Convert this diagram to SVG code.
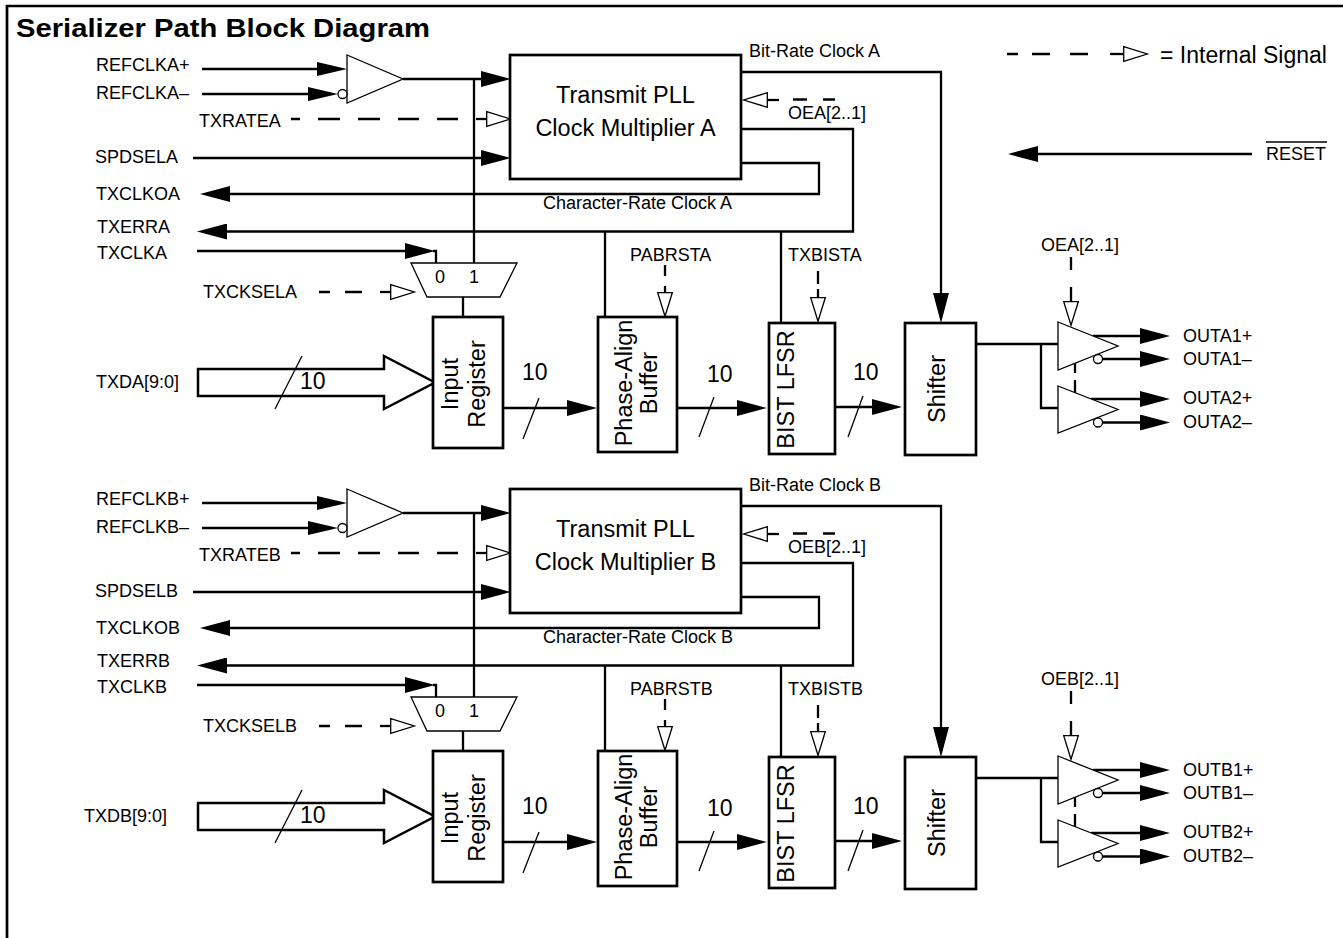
<svg xmlns="http://www.w3.org/2000/svg" width="1343" height="938" viewBox="0 0 1343 938">
<defs>
<style>
text{font-family:"Liberation Sans",Arial,sans-serif;fill:#000}
.lbl{font-size:18px}
.big{font-size:23.5px}
.num{font-size:23px}
.mid{text-anchor:middle}
.box{fill:#fff;stroke:#000;stroke-width:2.7}
.thin{fill:#fff;stroke:#000;stroke-width:1.3}
.w{fill:none;stroke:#000;stroke-width:2.3}
.sl{fill:none;stroke:#000;stroke-width:1.3}
.bus{fill:#fff;stroke:#000;stroke-width:2.5}
.fa{marker-end:url(#af)}
.fs{marker-end:url(#afs)}
.ha{marker-end:url(#ah)}
</style>
<marker id="af" viewBox="0 0 30 16" markerWidth="30" markerHeight="16" refX="0" refY="8" orient="auto" markerUnits="userSpaceOnUse"><path d="M0,0 L30,8 L0,16 z" fill="#000"/></marker>
<marker id="afs" viewBox="0 0 30 14" markerWidth="30" markerHeight="14" refX="0" refY="7" orient="auto" markerUnits="userSpaceOnUse"><path d="M0,0 L30,7 L0,14 z" fill="#000"/></marker>
<marker id="ah" viewBox="0 0 25 16" markerWidth="25" markerHeight="16" refX="0" refY="8" orient="auto" markerUnits="userSpaceOnUse" overflow="visible"><path d="M0.7,0.7 L24.3,8 L0.7,15.3 z" fill="#fff" stroke="#000" stroke-width="1.3"/></marker>
</defs>
<rect x="0" y="0" width="1343" height="938" fill="#fff"/>
<path d="M7,938 V6 H1343" fill="none" stroke="#000" stroke-width="2.7"/>
<text x="16" y="37" font-size="26" font-weight="bold" textLength="414" lengthAdjust="spacingAndGlyphs">Serializer Path Block Diagram</text>

<g id="legend">
<path class="w" d="M1007,54 H1018 M1032,54 H1050 M1070,54 H1088"/>
<path class="w ha" d="M1110,54 H1123"/>
<text x="1160" y="63" style="font-size:23px">= Internal Signal</text>
</g>
<g id="reset">
<path class="w fa" d="M1252,154 H1038"/>
<text class="lbl" x="1266" y="160">RESET</text>
<path class="sl" d="M1266,142 H1327"/>
</g>

<!-- ===================== CHANNEL A ===================== -->
<g id="channelA">
<g id="connectorsA">
<path class="w fs" d="M202,69 H317"/>
<path class="w fs" d="M202,94 H308"/>
<path class="w fa" d="M403,79 H481"/>
<path class="w" d="M474,79 V263"/>
<path class="w fa" d="M193,158 H481"/>
<path class="w fa" d="M741,163 H819 V194 H230"/>
<path class="w fa" d="M741,129 H853 V231.5 H227"/>
<path class="w" d="M605,231.5 V317"/>
<path class="w" d="M781,231.5 V323"/>
<path class="w fa" d="M197,251 H405"/>
<path class="w" d="M433,251 H436 V263"/>
<path class="w" d="M463,297 V317"/>
<path class="bus" d="M198,369 H384 V356 L435,382.5 L384,409 V396 H198 Z"/>
<path class="sl" d="M302,356 L275,409"/>
<path class="w fa" d="M503,408 H567"/>
<path class="sl" d="M539,398 L523,439"/>
<path class="w fa" d="M677,408 H737"/>
<path class="sl" d="M714,397 L699,437"/>
<path class="w fa" d="M835,407 H872"/>
<path class="sl" d="M863,396 L848,437"/>
<path class="w fa" d="M741,72 H941 V293"/>
<path class="w" d="M976,344 H1058 M1041,344 V408 H1058"/>
<path class="w fa" d="M1093,336 H1140"/>
<path class="w fa" d="M1102.5,359 H1140"/>
<path class="w fa" d="M1091,399 H1140"/>
<path class="w fa" d="M1102.5,422.5 H1140"/>
<path class="w" d="M291,119 H300 M318,119 H340 M358,119 H380 M398,119 H419 M437,119 H458"/>
<path class="w ha" d="M476,119 H486"/>
<path class="w" d="M319,292 H330 M345,292 H362"/>
<path class="w ha" d="M380,292 H390"/>
<path class="w" d="M835,99.5 H823 M807,99.5 H793"/>
<path class="w ha" d="M779,100 H768"/>
<path class="w" d="M665,265 V276"/>
<path class="w ha" d="M665,286 V292"/>
<path class="w" d="M818,271 V284"/>
<path class="w ha" d="M818,289 V297"/>
<path class="w" d="M1071,257 V270"/>
<path class="w ha" d="M1071,287 V301"/>
<path class="w" d="M1075,363 V373 M1075,380 V393"/>
</g>
<g id="refbufA"><polygon class="thin" points="347,55 403,79 347,103"/><circle class="thin" cx="342.5" cy="94" r="4.5"/></g>
<g id="pllA"><rect class="box" x="510" y="55" width="231" height="124"/><text class="big mid" x="625.5" y="103">Transmit PLL</text><text class="big mid" x="625.5" y="136">Clock Multiplier A</text></g>
<g id="muxA"><polygon class="thin" points="411,263 517,263 500,297 427,297"/><text class="lbl mid" x="440" y="283">0</text><text class="lbl mid" x="474" y="283">1</text></g>
<g id="inregA"><rect class="box" x="433" y="317" width="70" height="131"/><text class="big mid" transform="translate(458,384) rotate(-90)">Input</text><text class="big mid" transform="translate(485,384) rotate(-90)">Register</text></g>
<g id="pabA"><rect class="box" x="598" y="317" width="79" height="135"/><text class="big mid" transform="translate(631.5,383) rotate(-90)">Phase-Align</text><text class="big mid" transform="translate(657,383) rotate(-90)">Buffer</text></g>
<g id="bistA"><rect class="box" x="769" y="323" width="66" height="131"/><text class="big mid" transform="translate(794,389.5) rotate(-90)">BIST LFSR</text></g>
<g id="shifterA"><rect class="box" x="905" y="323" width="71" height="132"/><text class="big mid" transform="translate(945,389) rotate(-90)">Shifter</text></g>
<g id="outbuf1A"><polygon class="thin" points="1058,322 1118,346 1058,370"/><circle class="thin" cx="1098" cy="359" r="4.5"/></g>
<g id="outbuf2A"><polygon class="thin" points="1058,386 1118,409.5 1058,433"/><circle class="thin" cx="1098" cy="422.5" r="4.5"/></g>
<g id="labelsA">
<text class="lbl" x="96" y="70.5">REFCLKA+</text>
<text class="lbl" x="96" y="98.5">REFCLKA–</text>
<text class="lbl" x="199" y="126.5">TXRATEA</text>
<text class="lbl" x="95" y="163">SPDSELA</text>
<text class="lbl" x="96" y="200">TXCLKOA</text>
<text class="lbl" x="97" y="233">TXERRA</text>
<text class="lbl" x="97" y="259">TXCLKA</text>
<text class="lbl" x="203" y="297.5">TXCKSELA</text>
<text class="lbl" x="96" y="388">TXDA[9:0]</text>
<text class="lbl" x="749" y="56.5">Bit-Rate Clock A</text>
<text class="lbl" x="543" y="209">Character-Rate Clock A</text>
<text class="lbl" x="788" y="119">OEA[2..1]</text>
<text class="lbl" x="630" y="260.5">PABRSTA</text>
<text class="lbl" x="788" y="260.5">TXBISTA</text>
<text class="lbl" x="1041" y="250.5">OEA[2..1]</text>
<text class="lbl" x="1183" y="341.5">OUTA1+</text>
<text class="lbl" x="1183" y="365">OUTA1–</text>
<text class="lbl" x="1183" y="404">OUTA2+</text>
<text class="lbl" x="1183" y="428">OUTA2–</text>
<text class="num" x="300" y="389">10</text>
<text class="num" x="522" y="380">10</text>
<text class="num" x="707" y="382">10</text>
<text class="num" x="853" y="380">10</text>
</g>
</g>

<!-- ===================== CHANNEL B ===================== -->
<g id="channelB" transform="translate(0,434)">
<g id="connectorsB">
<path class="w fs" d="M202,69 H317"/>
<path class="w fs" d="M202,94 H308"/>
<path class="w fa" d="M403,79 H481"/>
<path class="w" d="M474,79 V263"/>
<path class="w fa" d="M193,158 H481"/>
<path class="w fa" d="M741,163 H819 V194 H230"/>
<path class="w fa" d="M741,129 H853 V231.5 H227"/>
<path class="w" d="M605,231.5 V317"/>
<path class="w" d="M781,231.5 V323"/>
<path class="w fa" d="M197,251 H405"/>
<path class="w" d="M433,251 H436 V263"/>
<path class="w" d="M463,297 V317"/>
<path class="bus" d="M198,369 H384 V356 L435,382.5 L384,409 V396 H198 Z"/>
<path class="sl" d="M302,356 L275,409"/>
<path class="w fa" d="M503,408 H567"/>
<path class="sl" d="M539,398 L523,439"/>
<path class="w fa" d="M677,408 H737"/>
<path class="sl" d="M714,397 L699,437"/>
<path class="w fa" d="M835,407 H872"/>
<path class="sl" d="M863,396 L848,437"/>
<path class="w fa" d="M741,72 H941 V293"/>
<path class="w" d="M976,344 H1058 M1041,344 V408 H1058"/>
<path class="w fa" d="M1093,336 H1140"/>
<path class="w fa" d="M1102.5,359 H1140"/>
<path class="w fa" d="M1091,399 H1140"/>
<path class="w fa" d="M1102.5,422.5 H1140"/>
<path class="w" d="M291,119 H300 M318,119 H340 M358,119 H380 M398,119 H419 M437,119 H458"/>
<path class="w ha" d="M476,119 H486"/>
<path class="w" d="M319,292 H330 M345,292 H362"/>
<path class="w ha" d="M380,292 H390"/>
<path class="w" d="M835,99.5 H823 M807,99.5 H793"/>
<path class="w ha" d="M779,100 H768"/>
<path class="w" d="M665,265 V276"/>
<path class="w ha" d="M665,286 V292"/>
<path class="w" d="M818,271 V284"/>
<path class="w ha" d="M818,289 V297"/>
<path class="w" d="M1071,257 V270"/>
<path class="w ha" d="M1071,287 V301"/>
<path class="w" d="M1075,363 V373 M1075,380 V393"/>
</g>
<g id="refbufB"><polygon class="thin" points="347,55 403,79 347,103"/><circle class="thin" cx="342.5" cy="94" r="4.5"/></g>
<g id="pllB"><rect class="box" x="510" y="55" width="231" height="124"/><text class="big mid" x="625.5" y="103">Transmit PLL</text><text class="big mid" x="625.5" y="136">Clock Multiplier B</text></g>
<g id="muxB"><polygon class="thin" points="411,263 517,263 500,297 427,297"/><text class="lbl mid" x="440" y="283">0</text><text class="lbl mid" x="474" y="283">1</text></g>
<g id="inregB"><rect class="box" x="433" y="317" width="70" height="131"/><text class="big mid" transform="translate(458,384) rotate(-90)">Input</text><text class="big mid" transform="translate(485,384) rotate(-90)">Register</text></g>
<g id="pabB"><rect class="box" x="598" y="317" width="79" height="135"/><text class="big mid" transform="translate(631.5,383) rotate(-90)">Phase-Align</text><text class="big mid" transform="translate(657,383) rotate(-90)">Buffer</text></g>
<g id="bistB"><rect class="box" x="769" y="323" width="66" height="131"/><text class="big mid" transform="translate(794,389.5) rotate(-90)">BIST LFSR</text></g>
<g id="shifterB"><rect class="box" x="905" y="323" width="71" height="132"/><text class="big mid" transform="translate(945,389) rotate(-90)">Shifter</text></g>
<g id="outbuf1B"><polygon class="thin" points="1058,322 1118,346 1058,370"/><circle class="thin" cx="1098" cy="359" r="4.5"/></g>
<g id="outbuf2B"><polygon class="thin" points="1058,386 1118,409.5 1058,433"/><circle class="thin" cx="1098" cy="422.5" r="4.5"/></g>
<g id="labelsB">
<text class="lbl" x="96" y="70.5">REFCLKB+</text>
<text class="lbl" x="96" y="98.5">REFCLKB–</text>
<text class="lbl" x="199" y="126.5">TXRATEB</text>
<text class="lbl" x="95" y="163">SPDSELB</text>
<text class="lbl" x="96" y="200">TXCLKOB</text>
<text class="lbl" x="97" y="233">TXERRB</text>
<text class="lbl" x="97" y="259">TXCLKB</text>
<text class="lbl" x="203" y="297.5">TXCKSELB</text>
<text class="lbl" x="84" y="388">TXDB[9:0]</text>
<text class="lbl" x="749" y="56.5">Bit-Rate Clock B</text>
<text class="lbl" x="543" y="209">Character-Rate Clock B</text>
<text class="lbl" x="788" y="119">OEB[2..1]</text>
<text class="lbl" x="630" y="260.5">PABRSTB</text>
<text class="lbl" x="788" y="260.5">TXBISTB</text>
<text class="lbl" x="1041" y="250.5">OEB[2..1]</text>
<text class="lbl" x="1183" y="341.5">OUTB1+</text>
<text class="lbl" x="1183" y="365">OUTB1–</text>
<text class="lbl" x="1183" y="404">OUTB2+</text>
<text class="lbl" x="1183" y="428">OUTB2–</text>
<text class="num" x="300" y="389">10</text>
<text class="num" x="522" y="380">10</text>
<text class="num" x="707" y="382">10</text>
<text class="num" x="853" y="380">10</text>
</g>
</g>
</svg>
